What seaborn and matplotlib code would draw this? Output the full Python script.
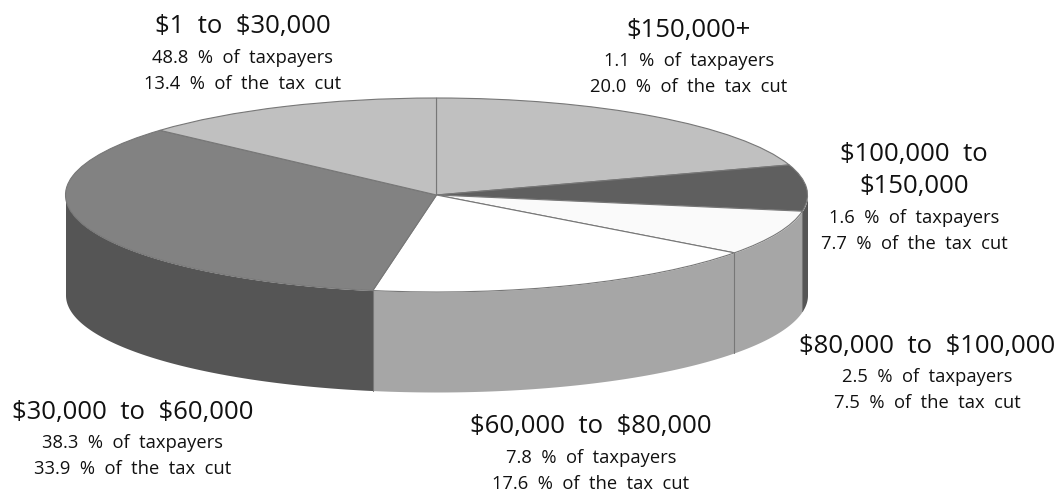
import numpy as np
import matplotlib
matplotlib.use("Agg")
import matplotlib.pyplot as plt
import seaborn as sns

# Income brackets, clockwise from twelve o'clock
brackets = ["$150,000+", "$100,000 to\n$150,000", "$80,000 to $100,000",
            "$60,000 to $80,000", "$30,000 to $60,000", "$1 to $30,000"]
taxpayers = [1.1, 1.6, 2.5, 7.8, 38.3, 48.8]
tax_cut = [20.0, 7.7, 7.5, 17.6, 33.9, 13.4]

top_greys = ["#c0c0c0", "#5f5f5f", "#fafafa", "#ffffff", "#828282", "#c0c0c0"]
side_greys = ["#a6a6a6", "#555555", "#a6a6a6", "#a6a6a6", "#555555", "#a6a6a6"]
label_px = [(689, 30), (914, 155), (927, 346), (591, 427), (133, 412), (243, 27)]

W, H = 1059, 492
CX, CY, RX, RY, DEPTH = 436.5, 195, 371, 97, 100

sns.set_theme(style="white")
plt.rcParams["font.family"] = ["Open Sans", "DejaVu Sans"]

fig = plt.figure(figsize=(W / 100, H / 100), dpi=100, facecolor="white")
ax = fig.add_axes([0, 0, 1, 1])

# Top face: a unit pie stretched into an ellipse by the axes limits
ax.pie(tax_cut, colors=sns.color_palette(top_greys), startangle=90, counterclock=False,
       radius=1, center=(0, 0), frame=False,
       wedgeprops=dict(edgecolor="#777777", linewidth=0.8, zorder=3))
ax.set_aspect("auto")
ax.set_xlim(-CX / RX, (W - CX) / RX)
ax.set_ylim((CY - H) / RY, CY / RY)
ax.axis("off")

# Side wall: only the front half of the rim is visible
depth = DEPTH / RY
edges = np.cumsum([0] + tax_cut) / sum(tax_cut) * 2 * np.pi
for start, end, grey in zip(edges[:-1], edges[1:], side_greys):
    lo, hi = max(start, np.pi / 2), min(end, 3 * np.pi / 2)
    if lo >= hi:
        continue
    t = np.linspace(lo, hi, 120)
    x, y = np.sin(t), np.cos(t)
    ax.fill_between(x, y, y - depth, color=grey, linewidth=0, zorder=1)
    # Seam between neighbouring slices, left out at the rim's outer ends
    if hi < 3 * np.pi / 2:
        ax.plot([x[-1], x[-1]], [y[-1], y[-1] - depth], color="#777777", lw=0.8, zorder=2)


def caption(px, py, text, size):
    fig.text(px / W, 1 - py / H, text.replace(" ", "  "), ha="center", va="center",
             fontsize=size, color="#111111", parse_math=False)


# Bracket captions, placed in pixel coordinates
for name, payers, cut, (px, py) in zip(brackets, taxpayers, tax_cut, label_px):
    for line in name.split("\n"):
        caption(px, py, line, 18.5)
        py += 32
    caption(px, py - 1, f"{payers} % of taxpayers", 13.2)
    caption(px, py + 25, f"{cut} % of the tax cut", 13.2)

fig.savefig("out.png", dpi=100, facecolor="white")
